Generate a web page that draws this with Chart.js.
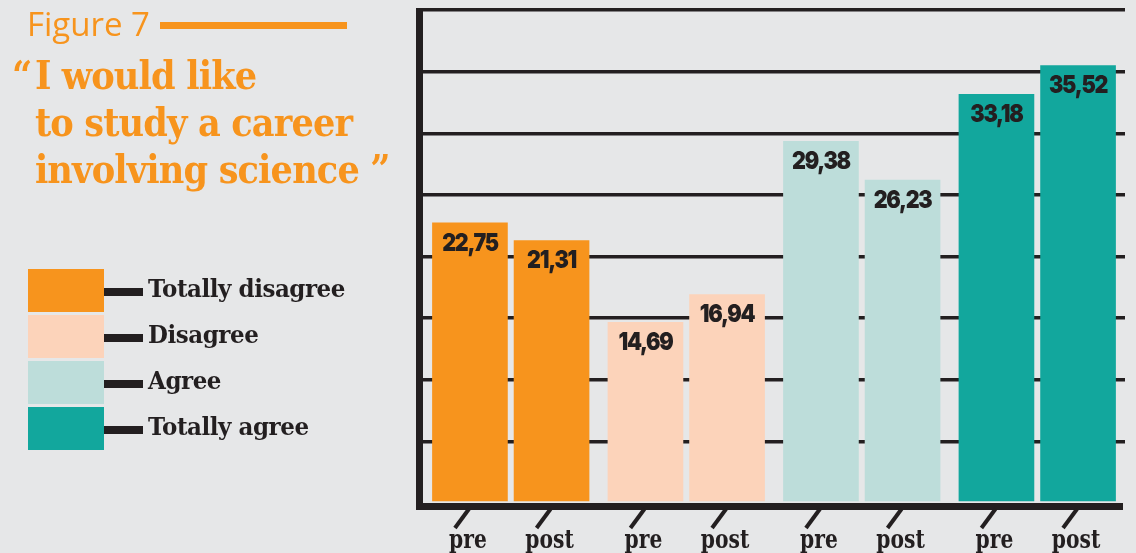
<!DOCTYPE html>
<html>
<head>
<meta charset="utf-8">
<script src="https://cdn.jsdelivr.net/npm/chart.js@4.4.1/dist/chart.umd.min.js"></script>
<style>
html, body { margin:0; padding:0; background:#e6e7e8; }
body { width:1136px; height:553px; position:relative; overflow:hidden; }
#wrap { position:absolute; left:0; top:0; width:1136px; height:553px; }
.fig { position:absolute; left:27px; top:7px; font-family:"Open Sans"; font-size:33px; line-height:33px; color:#f7941d; white-space:nowrap; }
.figline { position:absolute; left:160px; top:22px; width:187px; height:7px; background:#f7941d; }
.quote { position:absolute; left:12px; top:51px; font-family:"DejaVu Serif"; font-weight:bold; font-size:40px; line-height:47px; color:#f7941d; white-space:nowrap; letter-spacing:-1px; transform:scaleX(.88); transform-origin:0 0; }
.quote div { padding-left:26px; }
.quote .oq { position:absolute; left:0; top:0; padding:0; }
.legend { position:absolute; left:28px; top:269px; }
.item { position:relative; height:43px; margin-bottom:3px; }
.sw { position:absolute; left:0; top:0; width:76px; height:43px; }
.con { position:absolute; left:76px; top:19px; width:39px; height:8px; background:#231f20; }
.lab { position:absolute; left:120px; top:-2px; line-height:43px; font-family:"DejaVu Serif"; font-weight:bold; font-size:25px; color:#231f20; white-space:nowrap; letter-spacing:-0.5px; transform:scaleX(.92); transform-origin:0 0; }
</style>
</head>
<body>
<div id="wrap"><canvas id="chart"></canvas></div>
<div class="fig">Figure 7</div>
<div class="figline"></div>
<div class="quote">
  <span class="oq">“</span>
  <div>I would like</div>
  <div>to study a career</div>
  <div>involving science ”</div>
</div>
<div class="legend" id="legend"></div>
<script>
const categories = ['Totally disagree', 'Disagree', 'Agree', 'Totally agree'];
const phases = ['pre', 'post'];
const preValues = [22.75, 14.69, 29.38, 33.18];
const postValues = [21.31, 16.94, 26.23, 35.52];
const categoryColors = ['#f7941d', '#fcd3ba', '#bdddda', '#12a79d'];
const yMax = 40;
const yStep = 5;

const dark = '#231f20';

// legend on the left, built from the categories
let legend = document.getElementById('legend');
categories.forEach(function(name, i) {
  let item = document.createElement('div');
  item.className = 'item';
  item.innerHTML = '<div class="sw" style="background:' + categoryColors[i] + '"></div>' +
    '<div class="con"></div><div class="lab">' + name + '</div>';
  legend.appendChild(item);
});

let fmt = function(v) { return v.toFixed(2).replace('.', ','); };

const decor = {
  id: 'decor',
  afterDatasetsDraw(chart) {
    const ctx = chart.ctx;
    const a = chart.chartArea;
    ctx.save();
    // axis frame
    ctx.fillStyle = dark;
    ctx.fillRect(a.left - 7, a.top - 2, 7, a.bottom - a.top + 9);
    ctx.fillRect(a.left - 7, a.bottom, a.right - a.left + 5, 7);

    chart.data.datasets.forEach(function(ds, di) {
      chart.getDatasetMeta(di).data.forEach(function(bar, i) {
        // value inside the bar
        ctx.save();
        ctx.fillStyle = dark;
        ctx.translate(bar.x, bar.y + 28);
        ctx.scale(0.86, 1);
        ctx.font = '900 25px Inter';
        ctx.letterSpacing = '-1.5px';
        ctx.textAlign = 'center';
        ctx.textBaseline = 'alphabetic';
        ctx.fillText(fmt(ds.data[i]), 0, 0);
        ctx.restore();

        // slanted tick
        ctx.strokeStyle = dark;
        ctx.lineWidth = 4;
        ctx.beginPath();
        ctx.moveTo(bar.x - 1, a.bottom + 6);
        ctx.lineTo(bar.x - 15, a.bottom + 25);
        ctx.stroke();

        // pre / post
        ctx.save();
        ctx.fillStyle = dark;
        ctx.textAlign = 'center';
        ctx.translate(bar.x - 2, a.bottom + 45);
        ctx.scale(0.78, 1);
        ctx.font = 'bold 26px "DejaVu Serif"';
        ctx.fillText(phases[di], 0, 0);
        ctx.restore();
      });
    });
    ctx.restore();
  }
};

const canvas = document.getElementById('chart');
new Chart(canvas, {
  type: 'bar',
  data: {
    labels: categories,
    datasets: [
      { label: phases[0], data: preValues, backgroundColor: categoryColors, borderWidth: 0 },
      { label: phases[1], data: postValues, backgroundColor: categoryColors, borderWidth: 0 }
    ]
  },
  options: {
    responsive: true,
    maintainAspectRatio: false,
    animation: false,
    devicePixelRatio: 1,
    categoryPercentage: 0.93,
    barPercentage: 0.927,
    layout: { padding: { left: 423, top: 10, right: 11, bottom: 50 } },
    plugins: { legend: { display: false }, tooltip: { enabled: false } },
    scales: {
      x: {
        grid: { display: false, drawTicks: false },
        border: { display: false },
        ticks: { display: false }
      },
      y: {
        min: 0,
        max: yMax,
        ticks: { display: false, stepSize: yStep },
        border: { display: false },
        grid: {
          drawTicks: false,
          lineWidth: 3.5,
          color: function(c) { return c.tick && c.tick.value === 0 ? 'rgba(0,0,0,0)' : dark; }
        }
      }
    }
  },
  plugins: [decor]
});
</script>
</body>
</html>
